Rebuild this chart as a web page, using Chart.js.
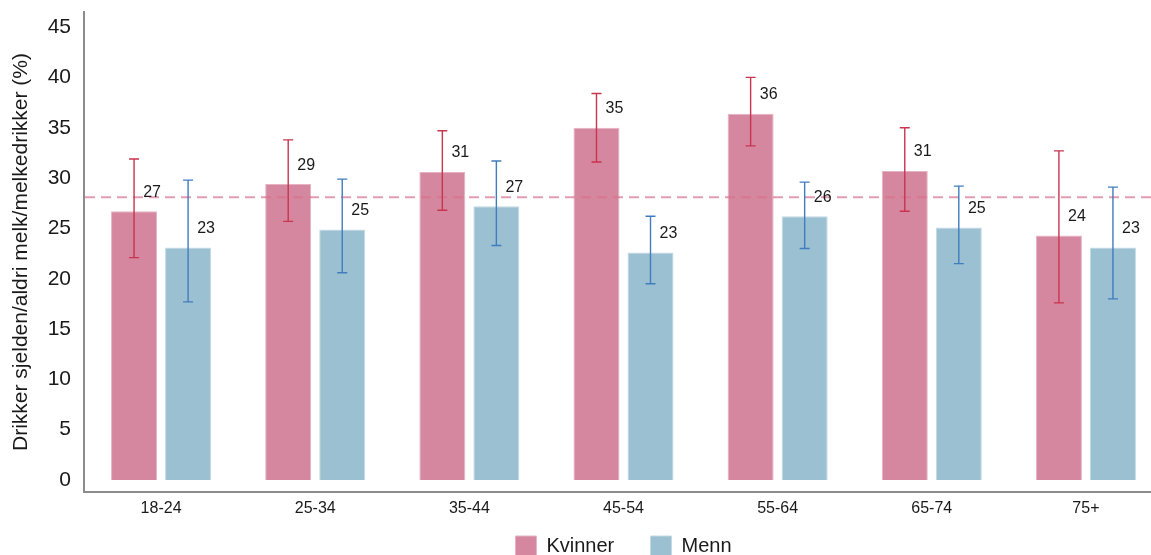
<!DOCTYPE html>
<html>
<head>
<meta charset="utf-8">
<script src="https://cdn.jsdelivr.net/npm/chart.js@4"></script>
<style>
    html, body { margin: 0; padding: 0; background: #fff; overflow: hidden; }
    #wrap { width: 1163px; height: 567px; position: relative; }
</style>
</head>
<body>
<div id="wrap"><canvas id="barChart"></canvas></div>
<script>
const categories = ['18-24', '25-34', '35-44', '45-54', '55-64', '65-74', '75+'];

const kvinner     = [26.7, 29.4, 30.6, 35.0, 36.4, 30.7, 24.3];
const kvinnerLow  = [22.1, 25.7, 26.8, 31.6, 33.2, 26.7, 17.6];
const kvinnerHigh = [31.9, 33.8, 34.7, 38.4, 40.0, 35.0, 32.7];

const menn     = [23.1, 24.9, 27.2, 22.6, 26.2, 25.1, 23.1];
const mennLow  = [17.7, 20.6, 23.3, 19.5, 23.0, 21.5, 18.0];
const mennHigh = [29.8, 29.9, 31.7, 26.2, 29.6, 29.2, 29.1];

const average = 28.1;
const yTicks = [0, 5, 10, 15, 20, 25, 30, 35, 40, 45];

const FONT = '"Liberation Sans", Arial, sans-serif';

// error bars, average line and value labels
const overlayPlugin = {
    id: 'overlay',
    afterDatasetsDraw(chart) {
        const ctx = chart.ctx;
        const yScale = chart.scales.y;
        const area = chart.chartArea;

        // dashed average line
        const yAvg = yScale.getPixelForValue(average);
        ctx.save();
        ctx.strokeStyle = 'rgba(216, 112, 138, 0.7)';
        ctx.lineWidth = 2;
        ctx.setLineDash([10, 6]);
        ctx.beginPath();
        ctx.moveTo(area.left + 1, yAvg);
        ctx.lineTo(area.right, yAvg);
        ctx.stroke();
        ctx.restore();

        const errs = [
            { low: kvinnerLow, high: kvinnerHigh, color: '#c9344f' },
            { low: mennLow, high: mennHigh, color: '#3f7dbf' }
        ];

        chart.data.datasets.forEach((ds, di) => {
            const meta = chart.getDatasetMeta(di);
            meta.data.forEach((bar, i) => {
                const x = bar.x;
                const yLo = yScale.getPixelForValue(errs[di].low[i]);
                const yHi = yScale.getPixelForValue(errs[di].high[i]);
                ctx.save();
                ctx.strokeStyle = errs[di].color;
                ctx.lineWidth = 1.4;
                ctx.beginPath();
                ctx.moveTo(x, yLo);
                ctx.lineTo(x, yHi);
                ctx.moveTo(x - 5, yLo);
                ctx.lineTo(x + 5, yLo);
                ctx.moveTo(x - 5, yHi);
                ctx.lineTo(x + 5, yHi);
                ctx.stroke();
                ctx.restore();

                ctx.save();
                ctx.fillStyle = '#1a1a1a';
                ctx.font = '16px ' + FONT;
                ctx.textAlign = 'center';
                ctx.textBaseline = 'middle';
                ctx.fillText(Math.round(ds.data[i]), x + 18, bar.y - 19);
                ctx.restore();
            });
        });
    }
};

new Chart(document.getElementById('barChart'), {
    type: 'bar',
    data: {
        labels: categories,
        datasets: [{
            label: 'Kvinner',
            data: kvinner,
            backgroundColor: '#d4879f',
            borderColor: '#e6b3c3',
            borderWidth: 1,
            barPercentage: 0.852,
            categoryPercentage: 0.701
        },
        {
            label: 'Menn',
            data: menn,
            backgroundColor: '#9bc0d1',
            borderColor: '#c2dae5',
            borderWidth: 1,
            barPercentage: 0.852,
            categoryPercentage: 0.701
        }]
    },
    options: {
        responsive: true,
        maintainAspectRatio: false,
        animation: false,
        layout: {
            padding: { top: 12, left: 0, right: 0, bottom: 0 }
        },
        plugins: {
            legend: {
                position: 'bottom',
                fullSize: false,
                labels: {
                    color: '#1a1a1a',
                    boxWidth: 21,
                    boxHeight: 21,
                    padding: 14,
                    font: { size: 20, family: FONT },
                    generateLabels: chart => {
                        const items = Chart.defaults.plugins.legend.labels.generateLabels(chart);
                        // extra room after the first entry
                        items[0].text += '    ';
                        return items;
                    }
                }
            },
            tooltip: { enabled: false }
        },
        scales: {
            y: {
                min: -1.19,
                max: 46.5,
                afterBuildTicks: scale => {
                    scale.ticks = yTicks.map(v => ({ value: v }));
                },
                afterFit: scale => {
                    scale.width = 84;
                    scale.paddingTop = 0;
                    scale.paddingBottom = 0;
                },
                title: {
                    display: true,
                    text: 'Drikker sjelden/aldri melk/melkedrikker (%)',
                    color: '#1a1a1a',
                    font: { size: 21, family: FONT },
                    padding: { top: 9, bottom: 0 }
                },
                ticks: {
                    color: '#1a1a1a',
                    padding: 13,
                    font: { size: 21, family: FONT }
                },
                grid: { display: false, drawTicks: false },
                border: { display: true, color: '#8c8c8c', width: 2 }
            },
            x: {
                afterFit: scale => {
                    scale.height = 30;
                    scale.paddingLeft = 0;
                    scale.paddingRight = 0;
                },
                ticks: {
                    color: '#1a1a1a',
                    padding: 7,
                    font: { size: 16, family: FONT }
                },
                grid: { display: false, drawTicks: false },
                border: { display: true, color: '#8c8c8c', width: 2 }
            }
        }
    },
    plugins: [overlayPlugin]
});
</script>
</body>
</html>
